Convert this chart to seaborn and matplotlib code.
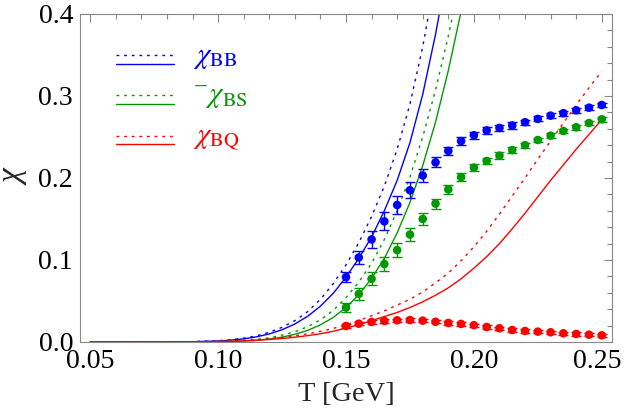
import numpy as np
import pandas as pd
import matplotlib
matplotlib.use("Agg")
import matplotlib.pyplot as plt
import matplotlib.transforms as mtransforms
import seaborn as sns
from matplotlib.lines import Line2D
from matplotlib.legend_handler import HandlerBase

# ---- lattice data (points with error bars) ----
T_lat = [0.150, 0.155, 0.160, 0.165, 0.170, 0.175, 0.180, 0.185, 0.190, 0.195, 0.200,
         0.205, 0.210, 0.215, 0.220, 0.225, 0.230, 0.235, 0.240, 0.245, 0.250]
chi_BB = [0.079, 0.103, 0.125, 0.147, 0.167, 0.185, 0.203, 0.219, 0.233, 0.245, 0.252,
          0.258, 0.261, 0.264, 0.268, 0.272, 0.276, 0.279, 0.2825, 0.2857, 0.289]
err_BB = [0.006, 0.008, 0.010, 0.011, 0.011, 0.010, 0.008, 0.006, 0.005, 0.005, 0.004,
          0.004, 0.004, 0.004, 0.003, 0.003, 0.003, 0.003, 0.003, 0.003, 0.003]
chi_BS = [0.042, 0.0585, 0.077, 0.095, 0.112, 0.131, 0.150, 0.1687, 0.186, 0.201, 0.2126,
          0.2207, 0.2272, 0.234, 0.240, 0.2463, 0.2516, 0.2573, 0.2618, 0.267, 0.2716]
err_BS = [0.006, 0.007, 0.008, 0.008, 0.0085, 0.008, 0.007, 0.006, 0.006, 0.005, 0.004,
          0.004, 0.004, 0.004, 0.003, 0.003, 0.003, 0.003, 0.003, 0.003, 0.003]
chi_BQ = [0.0195, 0.0223, 0.0244, 0.0256, 0.0264, 0.0267, 0.026, 0.0246, 0.0232, 0.022, 0.0205,
          0.0183, 0.0167, 0.0146, 0.0134, 0.0126, 0.0118, 0.0106, 0.0098, 0.0089, 0.0081]
err_BQ = [0.002] * 21

# ---- HRG curves (solid and dotted) ----
T_hrg = [0.05, 0.06, 0.07, 0.08, 0.09, 0.10, 0.105, 0.11, 0.115, 0.12, 0.125, 0.13, 0.135,
         0.14, 0.145, 0.15, 0.155, 0.16, 0.165, 0.17, 0.175, 0.18, 0.185, 0.19, 0.195, 0.20,
         0.205, 0.21, 0.215, 0.22, 0.225, 0.23, 0.235, 0.24, 0.245, 0.25]
BB_solid = [0.0, 0.0, 0.00001, 0.00005, 0.0003, 0.0012, 0.0022, 0.0038, 0.0062, 0.0098, 0.0149,
            0.0219, 0.0313, 0.0436, 0.0593, 0.079, 0.102, 0.128, 0.160, 0.197, 0.243, 0.302,
            0.375, 0.46, 0.55, 0.65, 0.75, 0.85, 0.95, 1.05, 1.15, 1.25, 1.35, 1.45, 1.55, 1.65]
BB_dot = [0.0, 0.0, 0.00001, 0.00006, 0.0004, 0.0015, 0.0027, 0.0046, 0.0075, 0.0118, 0.0178,
          0.026, 0.037, 0.052, 0.071, 0.094, 0.121, 0.153, 0.190, 0.235, 0.290, 0.360,
          0.445, 0.54, 0.64, 0.74, 0.84, 0.94, 1.04, 1.14, 1.24, 1.34, 1.44, 1.54, 1.64, 1.74]
BS_solid = [0.0, 0.0, 0.0, 0.00001, 0.00006, 0.0003, 0.0006, 0.0012, 0.0021, 0.0036, 0.0059,
            0.0093, 0.0141, 0.0209, 0.0299, 0.042, 0.0576, 0.0775, 0.102, 0.133, 0.170, 0.215,
            0.268, 0.331, 0.403, 0.49, 0.58, 0.68, 0.78, 0.88, 0.98, 1.08, 1.18, 1.28, 1.38, 1.48]
BS_dot = [0.0, 0.0, 0.0, 0.00002, 0.0001, 0.0005, 0.0009, 0.0017, 0.003, 0.005, 0.0082,
          0.0125, 0.0185, 0.027, 0.0385, 0.054, 0.073, 0.096, 0.125, 0.160, 0.201, 0.250,
          0.307, 0.373, 0.447, 0.53, 0.62, 0.72, 0.82, 0.92, 1.02, 1.12, 1.22, 1.32, 1.42, 1.52]
BQ_solid = [0.0, 0.0, 0.00001, 0.00005, 0.0002, 0.0005, 0.0008, 0.0013, 0.0020, 0.003, 0.0042,
            0.0058, 0.0077, 0.010, 0.013, 0.017, 0.021, 0.026, 0.031, 0.036, 0.042, 0.049,
            0.057, 0.066, 0.077, 0.090, 0.104, 0.120, 0.138, 0.157, 0.177, 0.197, 0.216,
            0.235, 0.253, 0.271]
BQ_dot = [0.0, 0.0, 0.00001, 0.00007, 0.0003, 0.0008, 0.0012, 0.0019, 0.0028, 0.004, 0.0055,
          0.0075, 0.0099, 0.013, 0.0165, 0.021, 0.026, 0.032, 0.038, 0.045, 0.052, 0.061,
          0.072, 0.084, 0.099, 0.116, 0.135, 0.156, 0.178, 0.200, 0.223, 0.245, 0.267,
          0.289, 0.310, 0.330]

labels = [r"$\chi_{\mathrm{BB}}$", r"$^{-}\chi_{\mathrm{BS}}$", r"$\chi_{\mathrm{BQ}}$"]
colors = ["#0000ff", "#009a00", "#ff0000"]

sns.set_theme(style="white")
plt.rcParams["font.family"] = ["Liberation Serif", "DejaVu Serif"]
plt.rcParams["mathtext.fontset"] = "stix"

fig = plt.figure(figsize=(6.25, 4.15), dpi=100)
ax = fig.add_axes([0.128, 0.176, 0.8512, 0.7904])

hrg = pd.DataFrame({"T": T_hrg, "BB_s": BB_solid, "BB_d": BB_dot, "BS_s": BS_solid,
                    "BS_d": BS_dot, "BQ_s": BQ_solid, "BQ_d": BQ_dot})
lat = pd.DataFrame({"T": T_lat, "BB": chi_BB, "BS": chi_BS, "BQ": chi_BQ})

for key, c in zip(["BB", "BS", "BQ"], colors):
    sns.lineplot(data=hrg, x="T", y=key + "_s", color=c, lw=1.0, ax=ax)
    sns.lineplot(data=hrg, x="T", y=key + "_d", color=c, lw=1.0, ax=ax,
                 linestyle=(0, (2.0, 3.5)))

for key, err, c in zip(["BB", "BS", "BQ"], [err_BB, err_BS, err_BQ], colors):
    ax.errorbar(lat["T"], lat[key], yerr=err, fmt="none", ecolor=c, elinewidth=1.0,
                capsize=3.5, capthick=1.0, zorder=3)
    sns.scatterplot(data=lat, x="T", y=key, color=c, s=38, edgecolor="none", ax=ax, zorder=4)


class DoubleLine(HandlerBase):
    def create_artists(self, legend, orig_handle, xdescent, ydescent, width, height,
                       fontsize, trans):
        c = orig_handle.get_color()
        l1 = Line2D([-xdescent, width - xdescent], [height * 0.38] * 2, color=c, lw=1.0,
                    linestyle=(0, (2.0, 3.5)), transform=trans)
        l2 = Line2D([-xdescent, width - xdescent], [height * -0.04] * 2, color=c, lw=1.0,
                    transform=trans)
        return [l1, l2]


handles = [Line2D([], [], color=c) for c in colors]
leg = ax.legend(handles, labels, handler_map={Line2D: DoubleLine()}, loc="upper left",
                bbox_to_anchor=(0.045, 0.949), frameon=False, fontsize=21,
                handlelength=2.0, handletextpad=0.65, labelspacing=0.40,
                borderaxespad=0.0)
for t, c in zip(leg.get_texts(), colors):
    t.set_color(c)

ax.set_xlim(0.046, 0.254)
ax.set_ylim(0.0, 0.4)
ax.set_xticks([0.05, 0.10, 0.15, 0.20, 0.25])
ax.set_xticklabels(["0.05", "0.10", "0.15", "0.20", "0.25"])
ax.set_yticks([0.0, 0.1, 0.2, 0.3, 0.4])
ax.set_yticklabels(["0.0", "0.1", "0.2", "0.3", "0.4"])
ax.set_xticks(np.arange(0.05, 0.2501, 0.01), minor=True)
ax.set_yticks(np.arange(0.0, 0.4001, 0.02), minor=True)
ax.tick_params(which="both", direction="in", top=True, right=True, colors="#888888",
               labelcolor="black", labelsize=20, width=0.8)
ax.tick_params(which="major", length=6)
ax.tick_params(which="minor", length=3.5)
ax.tick_params(axis="x", pad=5)
ax.tick_params(axis="y", pad=5)
for s in ax.spines.values():
    s.set_color("#888888")
    s.set_linewidth(0.8)

# nudge the last x tick label left so it stays inside the figure
last = ax.get_xticklabels()[-1]
last.set_transform(last.get_transform() +
                   mtransforms.ScaledTranslation(-5 / 100, 0, fig.dpi_scale_trans))

ax.set_xlabel("T [GeV]", fontsize=20.5, labelpad=6)
ax.set_ylabel("χ", fontsize=24, fontstyle="italic", rotation=90, labelpad=6)

fig.savefig("out.png", dpi=100)
